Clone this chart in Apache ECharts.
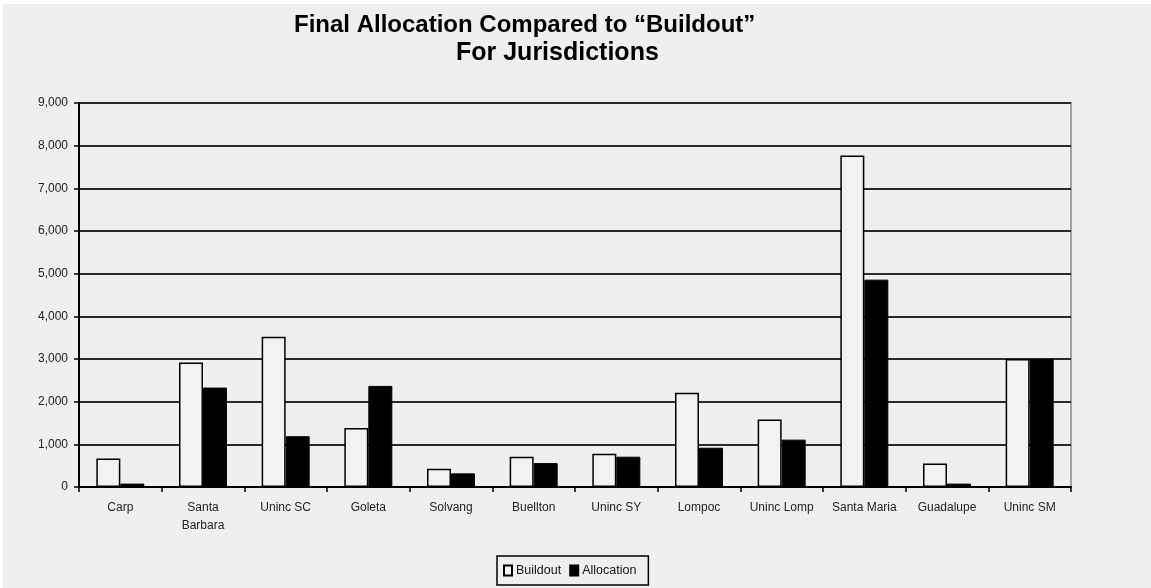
<!DOCTYPE html>
<html>
<head>
<meta charset="utf-8">
<script src="https://cdn.jsdelivr.net/npm/echarts@6/dist/echarts.min.js"></script>
<style>
  html, body { margin: 0; padding: 0; background: #ffffff; }
  #chart { width: 1151px; height: 588px; }
</style>
</head>
<body>
<div id="chart"></div>
<script>
// Jurisdictions along the x axis
var jurisdictions = ['Carp', 'Santa\nBarbara', 'Uninc SC', 'Goleta', 'Solvang', 'Buellton',
  'Uninc SY', 'Lompoc', 'Uninc Lomp', 'Santa Maria', 'Guadalupe', 'Uninc SM'];

// Housing units at buildout and final allocation per jurisdiction
var buildout = [670, 2920, 3520, 1380, 430, 710, 780, 2210, 1580, 7770, 550, 3000];
var allocation = [80, 2330, 1190, 2370, 320, 560, 710, 920, 1110, 4860, 80, 3000];

// Value axis range and step
var yMin = 0;
var yMax = 9000;
var yStep = 1000;

var titleLine1 = 'Final Allocation Compared to \u201cBuildout\u201d';
var titleLine2 = 'For Jurisdictions';

var chart = echarts.init(document.getElementById('chart'), null, { renderer: 'canvas' });

var labelFont = '"Liberation Sans", Arial, sans-serif';

chart.setOption({
  backgroundColor: 'transparent',
  animation: false,
  graphic: [{
    type: 'rect',
    z: -10,
    silent: true,
    shape: { x: 3, y: 4, width: 1148, height: 584 },
    style: { fill: '#efefef' }
  }],
  title: [{
    text: titleLine1,
    left: 289,
    top: 8,
    textStyle: { fontFamily: labelFont, fontSize: 24, fontWeight: 'bold', color: '#000' }
  }, {
    text: titleLine2,
    left: 451,
    top: 36,
    textStyle: { fontFamily: labelFont, fontSize: 25, fontWeight: 'bold', color: '#000' }
  }],
  legend: {
    left: 497,
    top: 556,
    orient: 'horizontal',
    itemWidth: 8,
    itemHeight: 10,
    itemGap: 8,
    padding: [8, 12, 8, 6],
    borderColor: '#000',
    borderWidth: 1.5,
    backgroundColor: '#efefef',
    icon: 'rect',
    textStyle: { fontFamily: labelFont, fontSize: 12.5, color: '#111', padding: [0, 0, 0, -1] },
    data: ['Buildout', 'Allocation']
  },
  grid: {
    left: 79,
    right: 80,
    top: 103,
    bottom: 101,
    show: true,
    borderColor: '#8a8a8a',
    borderWidth: 1.5,
    backgroundColor: 'transparent'
  },
  xAxis: {
    type: 'category',
    data: jurisdictions,
    boundaryGap: true,
    axisLine: { lineStyle: { color: '#000', width: 2 } },
    axisTick: { show: true, length: 5, lineStyle: { color: '#000', width: 1.5 } },
    axisLabel: {
      interval: 0,
      margin: 12,
      fontFamily: labelFont,
      fontSize: 12,
      color: '#222',
      lineHeight: 18
    }
  },
  yAxis: {
    type: 'value',
    min: yMin,
    max: yMax,
    interval: yStep,
    axisLine: { show: true, lineStyle: { color: '#000', width: 2 } },
    axisTick: { show: true, length: 5, lineStyle: { color: '#000', width: 1.5 } },
    axisLabel: {
      margin: 11,
      fontFamily: labelFont,
      fontSize: 12,
      color: '#222',
      formatter: function (v) { return v.toLocaleString('en-US'); }
    },
    splitLine: { show: true, lineStyle: { color: '#2a2a2a', width: 2 } }
  },
  series: [{
    name: 'Buildout',
    type: 'bar',
    data: buildout,
    barWidth: 24,
    barGap: '0%',
    itemStyle: { color: '#f2f2f2', borderColor: '#000', borderWidth: 1.5 }
  }, {
    name: 'Allocation',
    type: 'bar',
    data: allocation,
    barWidth: 24,
    itemStyle: { color: '#000', borderColor: '#000', borderWidth: 1 }
  }]
});
</script>
</body>
</html>
